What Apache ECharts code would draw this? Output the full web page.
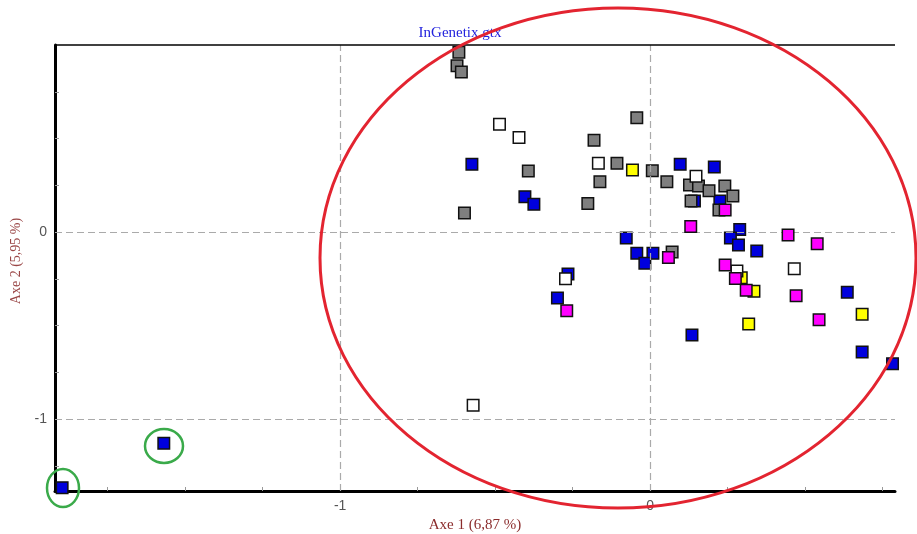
<!DOCTYPE html>
<html><head><meta charset="utf-8">
<script src="https://cdn.jsdelivr.net/npm/echarts@6/dist/echarts.min.js"></script>
<style>html,body{margin:0;padding:0;background:#fff}#c{width:917px;height:534px}</style>
</head><body><div id="c"></div>
<script>
const titleText = 'InGenetix.gtx';
const xName = 'Axe 1 (6,87 %)';
const yName = 'Axe 2 (5,95 %)';
const xTicks = [-1.75,-1.5,-1.25,-1,-0.75,-0.5,-0.25,0,0.25,0.5,0.75];
const yTicks = [0.75,0.5,0.25,0,-0.25,-0.5,-0.75,-1,-1.25];
const xLabels = [-1, 0];
const yLabels = [0, -1];

const blue = [[-0.575,0.362],[-0.404,0.189],[-0.375,0.148],[0.097,0.362],[0.207,0.348],[0.143,0.166],[0.225,0.166],[0.289,0.014],[0.259,-0.032],[0.285,-0.070],[0.344,-0.102],[-0.077,-0.032],[-0.043,-0.114],[0.009,-0.114],[-0.017,-0.167],[-0.265,-0.225],[-0.299,-0.353],[0.135,-0.551],[0.636,-0.322],[0.684,-0.642],[0.782,-0.704],[-1.569,-1.130],[-1.897,-1.367]];
const gray = [[-0.617,0.961],[-0.623,0.889],[-0.609,0.856],[-0.181,0.490],[-0.043,0.611],[-0.393,0.326],[-0.107,0.367],[0.007,0.328],[-0.162,0.269],[0.054,0.269],[-0.201,0.153],[-0.599,0.102],[0.127,0.251],[0.156,0.246],[0.190,0.221],[0.241,0.246],[0.267,0.193],[0.132,0.166],[0.222,0.118],[0.071,-0.107]];
const yellow = [[-0.057,0.332],[0.294,-0.244],[0.335,-0.317],[0.684,-0.440],[0.318,-0.492]];
const white = [[-0.486,0.576],[-0.423,0.506],[-0.167,0.367],[0.148,0.298],[0.280,-0.209],[0.465,-0.196],[-0.273,-0.250],[-0.571,-0.927]];
const magenta = [[0.242,0.118],[0.131,0.030],[0.445,-0.016],[0.539,-0.063],[0.059,-0.137],[0.242,-0.176],[0.275,-0.248],[0.310,-0.312],[0.471,-0.341],[0.545,-0.469],[-0.269,-0.421]];

const chart = echarts.init(document.getElementById('c'));
function sc(data, color, z) {
  return { type:'scatter', data, symbol:'rect', symbolSize:11.5, z,
    itemStyle:{color, borderColor:'#111', borderWidth:1.5, opacity:1},
    emphasis:{disabled:true}, silent:true };
}
const s0 = sc(blue, '#0000dd', 3);
s0.markLine = { silent:true, symbol:'none', label:{show:false}, animation:false,
  lineStyle:{color:'#aaaaaa', type:[7,4], width:1.2},
  data:[{xAxis:-1},{xAxis:0},{yAxis:0},{yAxis:-1},
    {yAxis:1, lineStyle:{color:'#000', type:'solid', width:1.5}}] };
chart.setOption({
  animation:false,
  title:{ text:titleText, left:455, top:21, textAlign:'center',
    textStyle:{fontFamily:'Liberation Serif', fontWeight:'normal', fontSize:15, color:'#2323dd'} },
  grid:{ left:55, right:22, top:45, bottom:43, containLabel:false, outerBoundsMode:'none' },
  xAxis:{ type:'value', min:-1.92, max:0.79,
    name:xName, nameLocation:'middle', nameGap:27,
    nameTextStyle:{fontFamily:'Liberation Serif', fontSize:15, color:'#8b2c2c'},
    axisLine:{show:true, onZero:false, lineStyle:{color:'#000', width:3}},
    axisTick:{show:true, inside:true, length:4, customValues:xTicks, lineStyle:{color:'#999'}},
    axisLabel:{customValues:xLabels, color:'#555', fontSize:14, fontFamily:'Liberation Sans', margin:8},
    splitLine:{show:false} },
  yAxis:{ type:'value', min:-1.385, max:1.0,
    name:yName, nameLocation:'middle', nameGap:29,
    nameTextStyle:{fontFamily:'Liberation Serif', fontSize:14, color:'#9a4646', padding:[0,0,0,14]},
    axisLine:{show:true, onZero:false, lineStyle:{color:'#000', width:3}},
    axisTick:{show:true, inside:true, length:4, customValues:yTicks, lineStyle:{color:'#999'}},
    axisLabel:{customValues:yLabels, color:'#555', fontSize:14, fontFamily:'Liberation Sans', margin:8},
    splitLine:{show:false} },
  series:[ s0, sc(gray,'#7f7f7f',4), sc(yellow,'#ffff00',5), sc(white,'#ffffff',6), sc(magenta,'#ff00ff',7) ],
  graphic:[
    {type:'ellipse', shape:{cx:618, cy:258, rx:298, ry:250}, z:100, silent:true,
      style:{fill:null, stroke:'#e32430', lineWidth:3}},
    {type:'ellipse', shape:{cx:164, cy:446, rx:19, ry:17}, z:100, silent:true,
      style:{fill:null, stroke:'#3aaa4a', lineWidth:2.5}},
    {type:'ellipse', shape:{cx:63, cy:488, rx:16, ry:19}, z:100, silent:true,
      style:{fill:null, stroke:'#3aaa4a', lineWidth:2.5}}
  ]
});
</script></body></html>
